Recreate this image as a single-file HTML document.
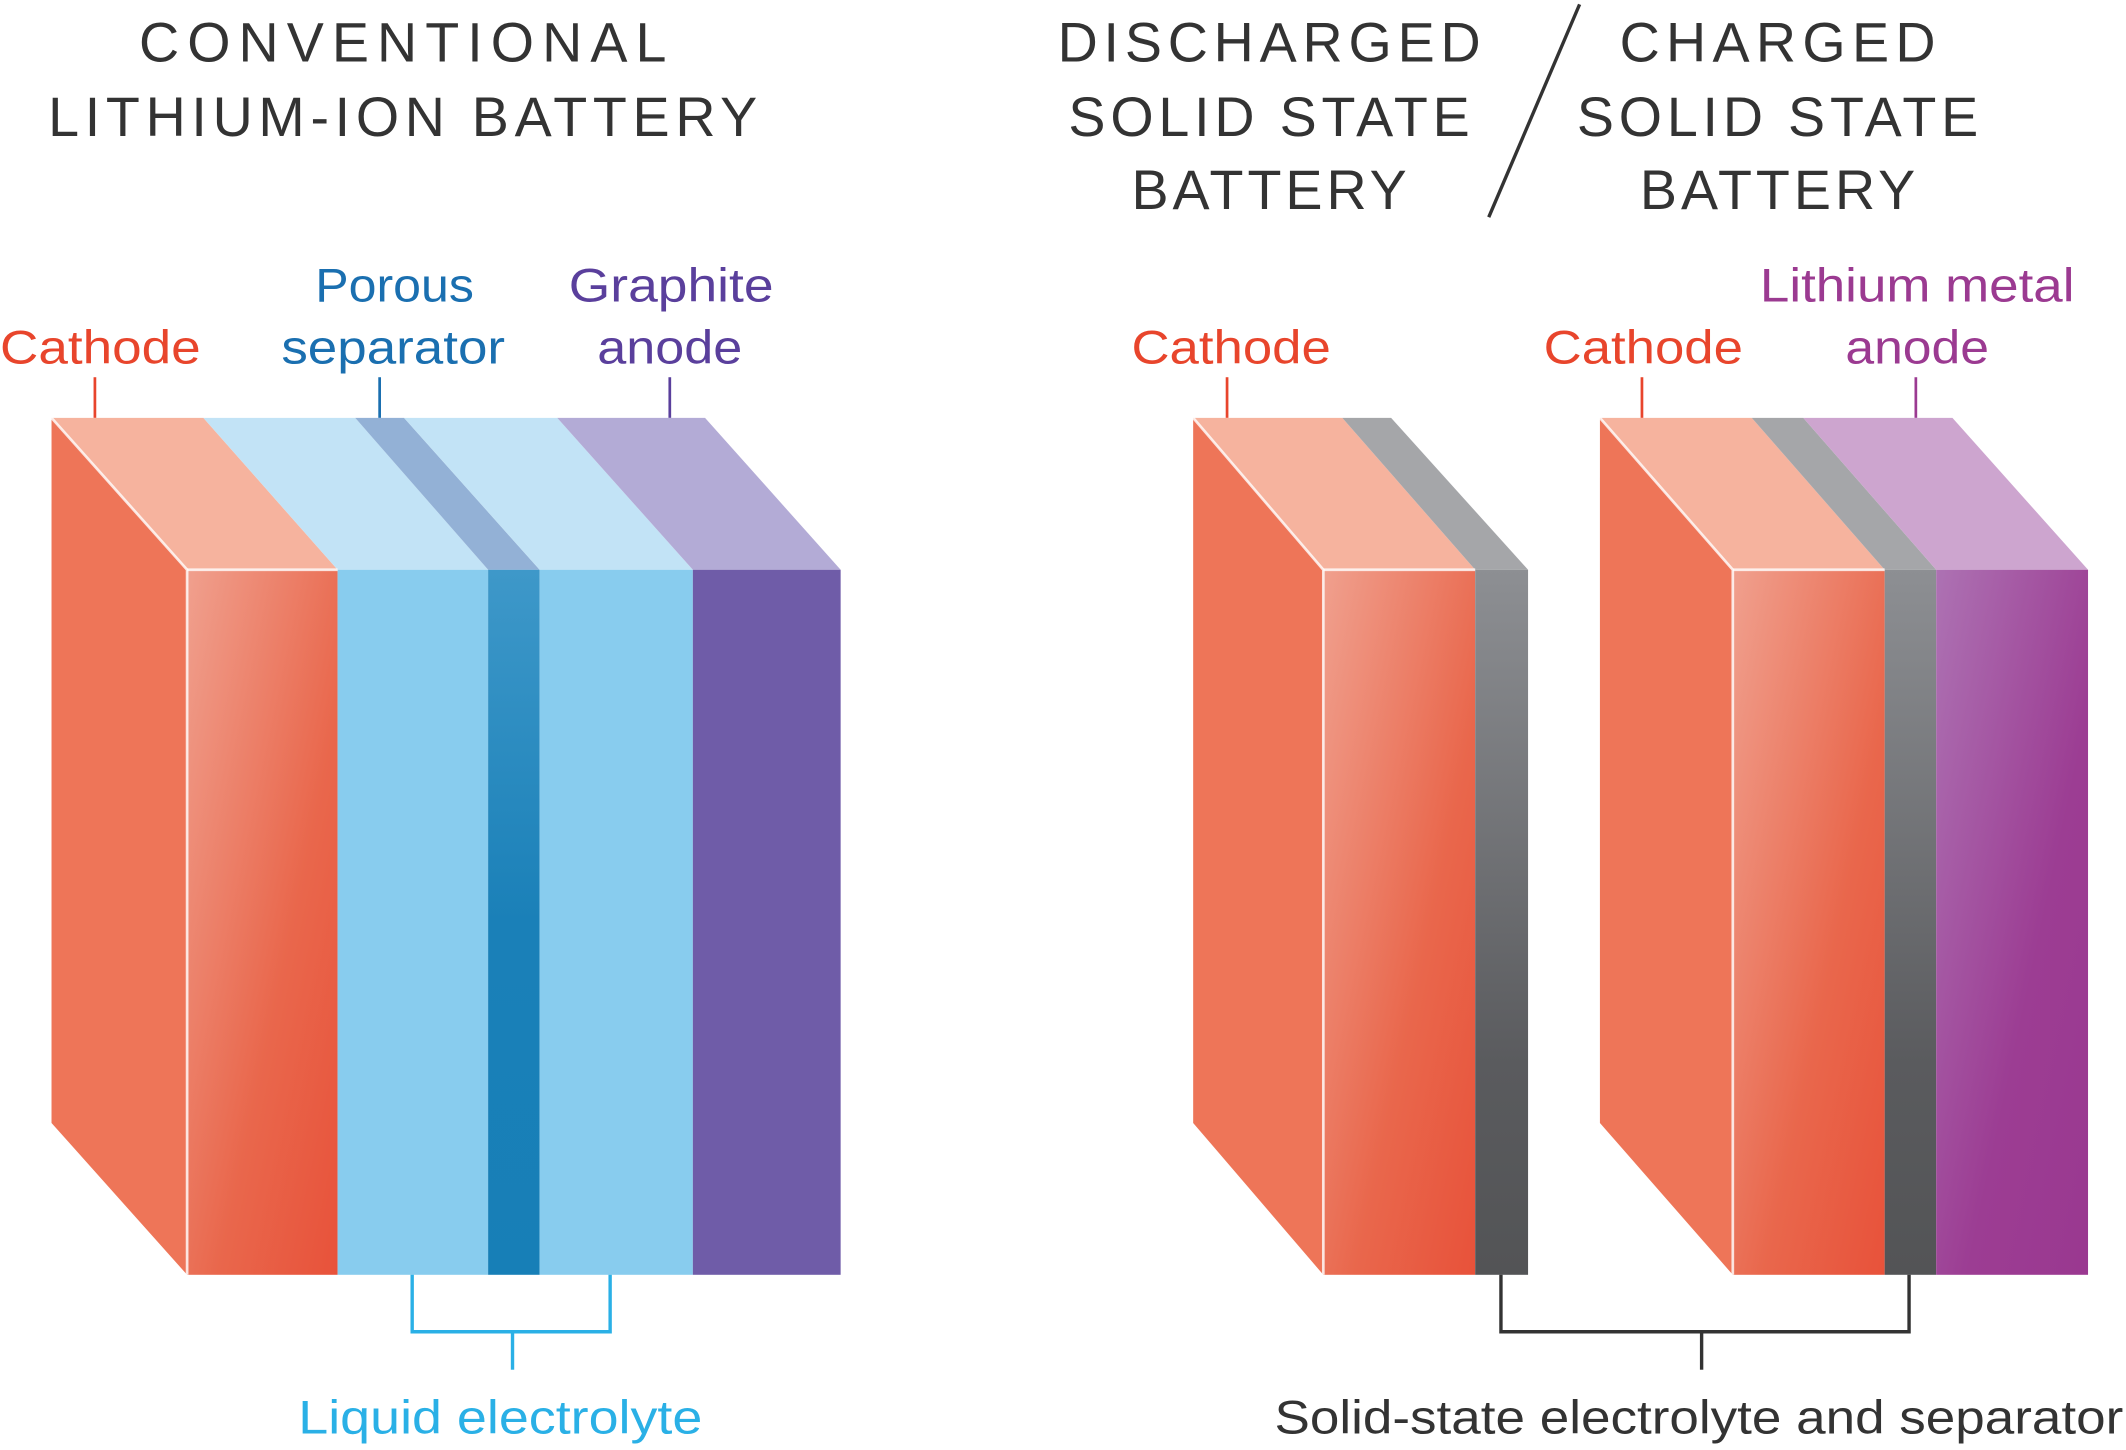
<!DOCTYPE html>
<html><head><meta charset="utf-8"><style>
html,body{margin:0;padding:0;background:#fff;}
svg{display:block;}
text{font-family:"Liberation Sans",sans-serif;}
</style></head><body>
<svg width="2126" height="1450" viewBox="0 0 1568 1069" xmlns="http://www.w3.org/2000/svg">
<defs>
<linearGradient id="cath" x1="0" y1="0" x2="1" y2="1"><stop offset="0" stop-color="#f0a08e"/><stop offset="0.6" stop-color="#e9674c"/><stop offset="1" stop-color="#e8523a"/></linearGradient>
<linearGradient id="sep" x1="0" y1="0" x2="0" y2="1"><stop offset="0" stop-color="#3e98c9"/><stop offset="0.5" stop-color="#1a80b8"/><stop offset="1" stop-color="#177fb7"/></linearGradient>
<linearGradient id="solid" x1="0" y1="0" x2="0" y2="1"><stop offset="0" stop-color="#8d8f93"/><stop offset="0.7" stop-color="#5a5b5e"/><stop offset="1" stop-color="#535456"/></linearGradient>
<linearGradient id="anode" x1="0" y1="0" x2="1" y2="1"><stop offset="0" stop-color="#ad72b3"/><stop offset="0.6" stop-color="#9c3d93"/><stop offset="1" stop-color="#9a3890"/></linearGradient>
</defs>

<g fill="#333" font-size="41" text-anchor="middle">
<text x="297" y="45" textLength="389" lengthAdjust="spacing">CONVENTIONAL</text>
<text x="297" y="100" textLength="523" lengthAdjust="spacing">LITHIUM-ION BATTERY</text>
<text x="936" y="45" textLength="312" lengthAdjust="spacing">DISCHARGED</text>
<text x="936" y="100" textLength="296" lengthAdjust="spacing">SOLID STATE</text>
<text x="936" y="154" textLength="203" lengthAdjust="spacing">BATTERY</text>
<text x="1311" y="45" textLength="233" lengthAdjust="spacing">CHARGED</text>
<text x="1311" y="100" textLength="296" lengthAdjust="spacing">SOLID STATE</text>
<text x="1311" y="154" textLength="203" lengthAdjust="spacing">BATTERY</text>
</g>
<line x1="1165" y1="3" x2="1098" y2="160" stroke="#333" stroke-width="2.5"/>

<g font-size="35" text-anchor="middle">
<text x="74" y="268" fill="#e8452c" textLength="148" lengthAdjust="spacingAndGlyphs">Cathode</text>
<text x="291" y="222" fill="#1a6fb0" textLength="117" lengthAdjust="spacingAndGlyphs">Porous</text>
<text x="290" y="268" fill="#1a6fb0" textLength="165" lengthAdjust="spacingAndGlyphs">separator</text>
<text x="495" y="222" fill="#5a3f9c" textLength="151" lengthAdjust="spacingAndGlyphs">Graphite</text>
<text x="494" y="268" fill="#5a3f9c" textLength="107" lengthAdjust="spacingAndGlyphs">anode</text>
<text x="908" y="268" fill="#e8452c" textLength="147" lengthAdjust="spacingAndGlyphs">Cathode</text>
<text x="1212" y="268" fill="#e8452c" textLength="147" lengthAdjust="spacingAndGlyphs">Cathode</text>
<text x="1414" y="222" fill="#9b3a91" textLength="232" lengthAdjust="spacingAndGlyphs">Lithium metal</text>
<text x="1414" y="268" fill="#9b3a91" textLength="106" lengthAdjust="spacingAndGlyphs">anode</text>
<text x="369" y="1057" fill="#2ab0e6" textLength="298" lengthAdjust="spacingAndGlyphs">Liquid electrolyte</text>
<text x="1253" y="1057" fill="#333" textLength="626" lengthAdjust="spacingAndGlyphs">Solid-state electrolyte and separator</text>
</g>
<g stroke-width="2">
<line x1="70" y1="278" x2="70" y2="308" stroke="#e8452c"/>
<line x1="280" y1="278" x2="280" y2="308" stroke="#1a6fb0"/>
<line x1="494" y1="278" x2="494" y2="308" stroke="#5a3f9c"/>
<line x1="905" y1="278" x2="905" y2="308" stroke="#e8452c"/>
<line x1="1211" y1="278" x2="1211" y2="308" stroke="#e8452c"/>
<line x1="1413" y1="278" x2="1413" y2="308" stroke="#9b3a91"/>
</g>

<polygon points="38,308 138,420 138,940 38,828" fill="#ee7558"/>
<polygon points="38,308 150,308 249,420 138,420" fill="#f6b39e"/>
<polygon points="150,308 262,308 360,420 249,420" fill="#c2e3f6"/>
<polygon points="262,308 298,308 398,420 360,420" fill="#93b1d6"/>
<polygon points="298,308 411,308 511,420 398,420" fill="#c2e3f6"/>
<polygon points="411,308 520,308 620,420 511,420" fill="#b3abd6"/>
<rect x="138" y="420" width="111" height="520" fill="url(#cath)"/>
<rect x="249" y="420" width="111" height="520" fill="#88ccee"/>
<rect x="360" y="420" width="38" height="520" fill="url(#sep)"/>
<rect x="398" y="420" width="113" height="520" fill="#88ccee"/>
<rect x="511" y="420" width="109" height="520" fill="#6f5ca8"/>
<polyline points="38,308 138,420 138,940" fill="none" stroke="#fff" stroke-width="2" opacity="0.8"/>
<line x1="138" y1="420" x2="249" y2="420" stroke="#fff" stroke-width="2" opacity="0.8"/>

<polygon points="880,308 976,420 976,940 880,828" fill="#ee7558"/>
<polygon points="880,308 990,308 1088,420 976,420" fill="#f6b39e"/>
<polygon points="990,308 1026,308 1127,420 1088,420" fill="#a5a6a9"/>
<rect x="976" y="420" width="112" height="520" fill="url(#cath)"/>
<rect x="1088" y="420" width="39" height="520" fill="url(#solid)"/>
<polyline points="880,308 976,420 976,940" fill="none" stroke="#fff" stroke-width="2" opacity="0.8"/>
<line x1="976" y1="420" x2="1088" y2="420" stroke="#fff" stroke-width="2" opacity="0.8"/>

<polygon points="1180,308 1278,420 1278,940 1180,828" fill="#ee7558"/>
<polygon points="1180,308 1292,308 1390,420 1278,420" fill="#f6b39e"/>
<polygon points="1292,308 1330,308 1428,420 1390,420" fill="#a5a6a9"/>
<polygon points="1330,308 1440,308 1540,420 1428,420" fill="#cda5cf"/>
<rect x="1278" y="420" width="112" height="520" fill="url(#cath)"/>
<rect x="1390" y="420" width="38" height="520" fill="url(#solid)"/>
<rect x="1428" y="420" width="112" height="520" fill="url(#anode)"/>
<polyline points="1180,308 1278,420 1278,940" fill="none" stroke="#fff" stroke-width="2" opacity="0.8"/>
<line x1="1278" y1="420" x2="1390" y2="420" stroke="#fff" stroke-width="2" opacity="0.8"/>

<polyline points="304,940 304,982 450,982 450,940" fill="none" stroke="#2ab0e6" stroke-width="2.5"/>
<line x1="378" y1="982" x2="378" y2="1010" stroke="#2ab0e6" stroke-width="2.5"/>
<polyline points="1107,940 1107,982 1408,982 1408,940" fill="none" stroke="#333" stroke-width="2.5"/>
<line x1="1255" y1="982" x2="1255" y2="1010" stroke="#333" stroke-width="2.5"/>
</svg>
</body></html>
